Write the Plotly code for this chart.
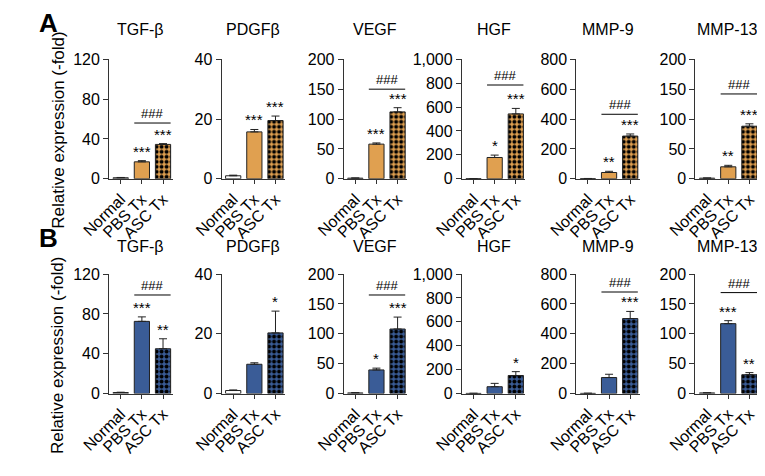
import plotly.graph_objects as go

# ---------------- data ----------------
genes = ["TGF-β", "PDGFβ", "VEGF", "HGF", "MMP-9", "MMP-13"]
groups = ["Normal", "PBS Tx", "ASC Tx"]
y_max = [120, 40, 200, 1000, 800, 200]
y_dtick = [40, 20, 50, 200, 200, 50]

# Panel A (orange)
a_normal = [1, 1, 1, 1, 1, 1]
a_normal_err = [0.3, 0.2, 0.3, 1, 1, 0.3]
a_pbs = [17, 15.7, 58, 178, 42, 20]
a_pbs_err = [1.2, 0.8, 2, 20, 8, 2.5]
a_asc = [34.5, 19.5, 112, 543, 286, 88]
a_asc_err = [0.8, 1.5, 7, 46, 14, 4]
a_pbs_sig = ["***", "***", "***", "*", "**", "**"]
a_asc_sig = ["***", "***", "***", "***", "***", "***"]
a_bracket = [56, None, 150, 785, 432, 142]

# Panel B (blue)
b_normal = [1, 1, 1, 1, 1, 1]
b_normal_err = [0.3, 0.2, 0.5, 1, 1, 0.3]
b_pbs = [72.5, 9.8, 39.5, 57, 107, 117]
b_pbs_err = [4.5, 0.5, 3, 28, 22, 5]
b_asc = [45, 20.3, 108, 151, 502, 31.5]
b_asc_err = [10, 7.3, 20, 32, 48, 3.5]
b_pbs_sig = ["***", "", "*", "", "", "***"]
b_asc_sig = ["**", "*", "***", "*", "***", "**"]
b_bracket = [99, None, 165, None, 680, 169]

# ---------------- style / layout ----------------
PAGE_W, PAGE_H = 765, 476
OFF = 8  # default body margin of the html page
W, H = PAGE_W - 2 * OFF, PAGE_H - 2 * OFF
FONT = "Liberation Sans, Arial, sans-serif"
ORANGE = "#E0A050"
BLUE = "#3A5C97"
AXCOL = "#333333"
EDGE = "#222222"


def px(xs):
    return min(1.0, max(0.0, (xs - OFF) / W))


def py(ys):
    return min(1.0, max(0.0, 1 - (ys - OFF) / H))


ax_left = [83, 200, 327, 450, 569, 693]
ax_w = 66
cat_px = 22
rows = [
    dict(top=53, bottom=177, title_y=22, color=ORANGE, label="A", label_y=15,
         ytitle_c=127,
         normal=a_normal, normal_err=a_normal_err, pbs=a_pbs, pbs_err=a_pbs_err,
         asc=a_asc, asc_err=a_asc_err, pbs_sig=a_pbs_sig, asc_sig=a_asc_sig,
         bracket=a_bracket),
    dict(top=276, bottom=400, title_y=247, color=BLUE, label="B", label_y=239,
         ytitle_c=361,
         normal=b_normal, normal_err=b_normal_err, pbs=b_pbs, pbs_err=b_pbs_err,
         asc=b_asc, asc_err=b_asc_err, pbs_sig=b_pbs_sig, asc_sig=b_asc_sig,
         bracket=b_bracket),
]

fig = go.Figure()
annotations = []
shapes = []


def err_dict(e):
    return dict(type="data", array=[e], arrayminus=[0], symmetric=False,
                color=EDGE, thickness=1, width=4)


k = 0
for r, row in enumerate(rows):
    for c, gene in enumerate(genes):
        k += 1
        xa = "x" if k == 1 else f"x{k}"
        ya = "y" if k == 1 else f"y{k}"
        xkey = "xaxis" if k == 1 else f"xaxis{k}"
        ykey = "yaxis" if k == 1 else f"yaxis{k}"
        vals = [row["normal"][c], row["pbs"][c], row["asc"][c]]
        errs = [row["normal_err"][c], row["pbs_err"][c], row["asc_err"][c]]
        col = row["color"]
        common = dict(xaxis=xa, yaxis=ya, width=0.72, showlegend=False,
                      hoverinfo="skip")
        # Normal: open bar
        fig.add_trace(go.Bar(
            x=[groups[0]], y=[vals[0]], error_y=err_dict(errs[0]),
            marker=dict(color="white", line=dict(color=EDGE, width=1)), **common))
        # PBS Tx: solid bar
        fig.add_trace(go.Bar(
            x=[groups[1]], y=[vals[1]], error_y=err_dict(errs[1]),
            marker=dict(color=col, line=dict(color=EDGE, width=1)), **common))
        # ASC Tx: checkered bar
        fig.add_trace(go.Bar(
            x=[groups[2]], y=[vals[2]], error_y=err_dict(errs[2]),
            marker=dict(color=col, line=dict(color=EDGE, width=1),
                        pattern=dict(shape=".", fgcolor="#000000", bgcolor=col,
                                     size=5, solidity=0.5, fillmode="replace",
                                     fgopacity=1)),
            **common))
        left_px = ax_left[c]
        right_px = min(ax_left[c] + ax_w, OFF + W)
        x0 = px(left_px)
        x1 = px(right_px)
        y0 = py(row["bottom"])
        y1 = py(row["top"])
        r0 = -0.55
        r1 = r0 + (right_px - left_px) / cat_px
        fig.layout[xkey] = dict(
            domain=[x0, x1], anchor=ya, range=[r0, r1],
            type="category", categoryorder="array", categoryarray=groups,
            showline=True, linecolor=AXCOL, linewidth=1,
            ticks="outside", ticklen=4, tickcolor=AXCOL, tickwidth=1,
            tickangle=-45, tickfont=dict(family=FONT, size=16, color="black"),
            showgrid=False, zeroline=False, fixedrange=True,
        )
        fig.layout[ykey] = dict(
            domain=[y0, y1], anchor=xa, range=[0, y_max[c]], dtick=y_dtick[c],
            tick0=0, tickformat=",d",
            showline=True, linecolor=AXCOL, linewidth=1,
            ticks="outside", ticklen=5, tickcolor=AXCOL, tickwidth=1,
            tickfont=dict(family=FONT, size=16, color="black"),
            showgrid=False, zeroline=False, fixedrange=True,
        )
        # panel title
        annotations.append(dict(
            text=gene, x=px(left_px + ax_w / 2), y=py(row["title_y"]),
            xref="paper", yref="paper", showarrow=False,
            xanchor="center", yanchor="middle",
            font=dict(family=FONT, size=16, color="black"),
        ))
        # significance stars
        for gi, sig in ((1, row["pbs_sig"][c]), (2, row["asc_sig"][c])):
            if sig:
                annotations.append(dict(
                    text=sig, x=groups[gi], y=vals[gi] + errs[gi],
                    xref=xa, yref=ya, showarrow=False,
                    xanchor="center", yanchor="bottom", yshift=-1,
                    font=dict(family=FONT, size=15, color="black"),
                ))
        # bracket ###
        bk = row["bracket"][c]
        if bk is not None:
            shapes.append(dict(
                type="line", xref=xa, yref=ya, x0=0.64, x1=2.36, y0=bk, y1=bk,
                line=dict(color="black", width=1),
            ))
            annotations.append(dict(
                text="###", x=1.5, y=bk, xref=xa, yref=ya, showarrow=False,
                xanchor="center", yanchor="bottom", yshift=0,
                font=dict(family=FONT, size=13, color="black"),
            ))
    # row y-axis title
    annotations.append(dict(
        text="Relative expression (-fold)", x=px(30), y=py(row["ytitle_c"]),
        xref="paper", yref="paper", showarrow=False, textangle=-90,
        xanchor="center", yanchor="middle",
        font=dict(family=FONT, size=17, color="black"),
    ))
    # panel letter
    annotations.append(dict(
        text=f"<b>{row['label']}</b>", x=0, y=py(row["label_y"]),
        xref="paper", yref="paper", showarrow=False,
        xanchor="left", yanchor="middle",
        font=dict(family=FONT, size=26, color="black"),
    ))

fig.update_layout(
    width=W, height=H, margin=dict(l=0, r=0, t=0, b=0),
    paper_bgcolor="white", plot_bgcolor="white", barmode="overlay",
    annotations=annotations, shapes=shapes,
    font=dict(family=FONT, color="black"),
)

fig.write_html("out.html")
